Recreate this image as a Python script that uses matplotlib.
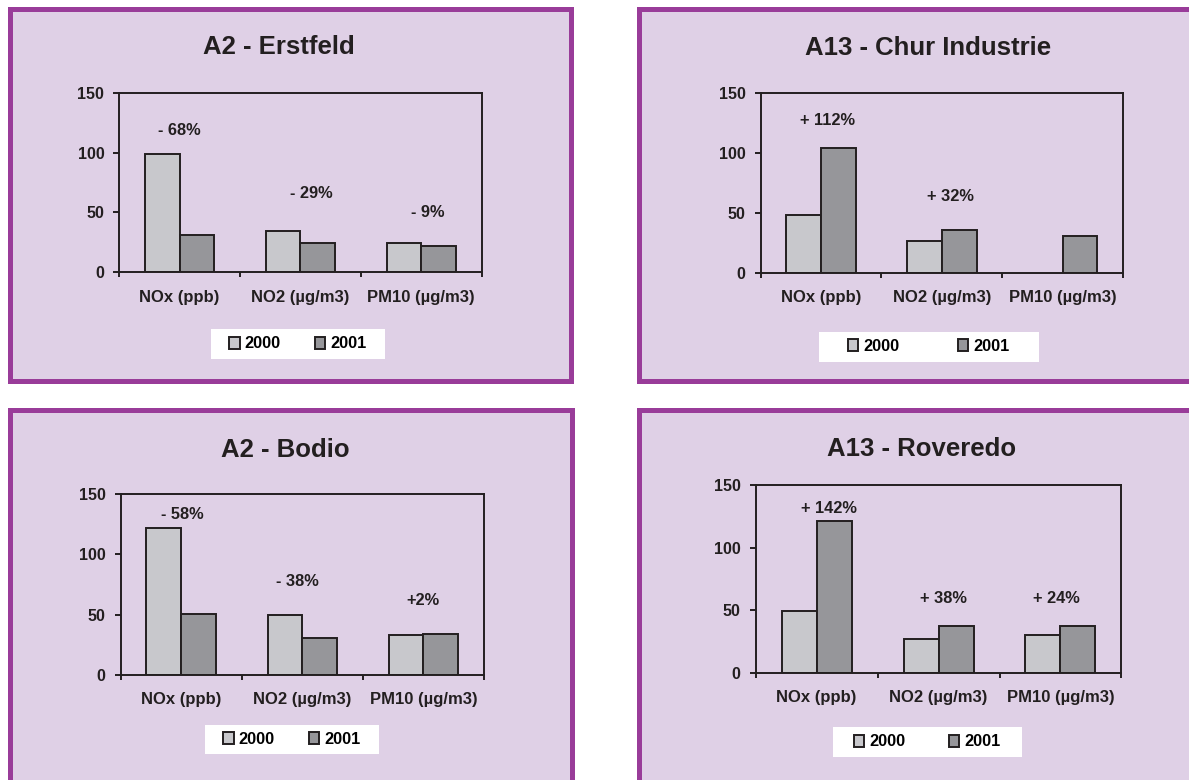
import numpy as np
import matplotlib
matplotlib.use("Agg")
import matplotlib.pyplot as plt
from matplotlib.patches import Rectangle

plt.rcParams["font.family"] = ["Liberation Sans", "DejaVu Sans"]
plt.rcParams["font.weight"] = "bold"

# data
categories = ["NOx (ppb)", "NO2 (µg/m3)", "PM10 (µg/m3)"]
years = ["2000", "2001"]
titles = ["A2 - Erstfeld", "A13 - Chur Industrie", "A2 - Bodio", "A13 - Roveredo"]

erstfeld_2000 = [98.8, 34.8, 24.7]
erstfeld_2001 = [31.2, 24.7, 22.0]
chur_2000 = [48.2, 26.8, np.nan]
chur_2001 = [104.5, 36.0, 30.9]
bodio_2000 = [122.2, 49.6, 33.3]
bodio_2001 = [50.7, 30.8, 34.1]
roveredo_2000 = [49.5, 27.2, 30.4]
roveredo_2001 = [121.2, 37.3, 37.3]

erstfeld_change = ["- 68%", "- 29%", "- 9%"]
chur_change = ["+ 112%", "+ 32%", ""]
bodio_change = ["- 58%", "- 38%", "+2%"]
roveredo_change = ["+ 142%", "+ 38%", "+ 24%"]

yticks = [0, 50, 100, 150]

W, H = 1189, 780
BG = "#DFD0E6"
BORDER = "#993C99"
LIGHT = "#C8C8CC"
DARK = "#96969A"
INK = "#231F20"

# layout in pixels: panel frame, axes box, title pos, legend box, label spots, legend column gap
panels = [
    dict(frame=(9.5, 8.5, 571, 381), ax=(119.3, 92.7, 481.6, 272.3), title=(279, 47.5),
         legend=(211, 329, 385, 359), gap=2.1,
         spots=[(0.0, 118.3), (1.09, 65.4), (2.05, 49.8)],
         v2000=erstfeld_2000, v2001=erstfeld_2001, change=erstfeld_change),
    dict(frame=(638.5, 8.5, 1200, 381), ax=(760.7, 93.3, 1123, 272.7), title=(928, 48),
         legend=(818.7, 331.7, 1038.9, 361.7), gap=3.6,
         spots=[(0.05, 127.0), (1.07, 64.1), (2.0, 60.0)],
         v2000=chur_2000, v2001=chur_2001, change=chur_change),
    dict(frame=(9.5, 410, 571.5, 790), ax=(120.7, 494.3, 483.9, 674.7), title=(285, 450),
         legend=(205, 725, 379, 754.3), gap=2.1,
         spots=[(0.01, 133.6), (0.96, 77.3), (2.0, 62.1)],
         v2000=bodio_2000, v2001=bodio_2001, change=bodio_change),
    dict(frame=(638.5, 410, 1200, 790), ax=(755.7, 485, 1121.4, 672.7), title=(922, 449),
         legend=(832.6, 727.3, 1022, 756.7), gap=2.65,
         spots=[(0.1, 131.4), (1.04, 59.5), (1.97, 59.5)],
         v2000=roveredo_2000, v2001=roveredo_2001, change=roveredo_change),
]


def fx(x):
    return x / W


def fy(y):
    return 1 - y / H


fig = plt.figure(figsize=(W / 100, H / 100), dpi=100)
fig.patch.set_facecolor("white")

x = np.arange(len(categories))
bw = 0.287

for i, p in enumerate(panels):
    x0, y0, x1, y1 = p["frame"]
    fig.patches.append(Rectangle((fx(x0), fy(y1)), fx(x1) - fx(x0), fy(y0) - fy(y1),
                                 transform=fig.transFigure, facecolor=BG, edgecolor=BORDER,
                                 linewidth=3.6, zorder=-10))
    lx0, ly0, lx1, ly1 = p["legend"]
    fig.patches.append(Rectangle((fx(lx0), fy(ly1)), fx(lx1) - fx(lx0), fy(ly0) - fy(ly1),
                                 transform=fig.transFigure, facecolor="white", edgecolor="none",
                                 zorder=-5))

    ax0, ay0, ax1, ay1 = p["ax"]
    ax = fig.add_axes([fx(ax0), fy(ay1), fx(ax1) - fx(ax0), fy(ay0) - fy(ay1)])
    ax.set_facecolor("none")

    b1 = ax.bar(x - bw / 2, p["v2000"], bw, color=LIGHT, edgecolor=INK, linewidth=1.4, label=years[0])
    b2 = ax.bar(x + bw / 2, p["v2001"], bw, color=DARK, edgecolor=INK, linewidth=1.4, label=years[1])

    ax.set_xlim(-0.5, 2.5)
    ax.set_ylim(0, 150)
    ax.set_yticks(yticks)
    ax.set_xticks(x)
    ax.set_xticklabels(categories)
    ax.set_xticks([-0.5, 0.5, 1.5, 2.5], minor=True)
    ax.tick_params(axis="x", which="major", length=0, pad=12.5, labelsize=12, colors=INK)
    ax.tick_params(axis="x", which="minor", length=3.6, width=1.4, direction="out", color=INK)
    ax.tick_params(axis="y", length=4.3, width=1.4, direction="out", pad=6.5, labelsize=11.5, colors=INK)
    for s in ax.spines.values():
        s.set_linewidth(1.4)
        s.set_color(INK)

    for (sx, sy), txt in zip(p["spots"], p["change"]):
        ax.text(sx, sy, txt, ha="center", va="center", fontsize=11.8, fontweight="bold", color=INK)

    tx, ty = p["title"]
    fig.text(fx(tx), fy(ty), titles[i], ha="center", va="center", fontsize=18.5,
             fontweight="bold", color=INK)

    ax.legend(handles=[b1, b2], labels=years, loc="center",
              bbox_to_anchor=(fx((lx0 + lx1) / 2), fy((ly0 + ly1) / 2)),
              bbox_transform=fig.transFigure, frameon=False, ncol=2,
              handlelength=0.62, handleheight=0.75, handletextpad=0.31,
              columnspacing=p["gap"], borderpad=0,
              prop={"size": 11.8, "weight": "bold"})

fig.savefig("out.png", dpi=100)
